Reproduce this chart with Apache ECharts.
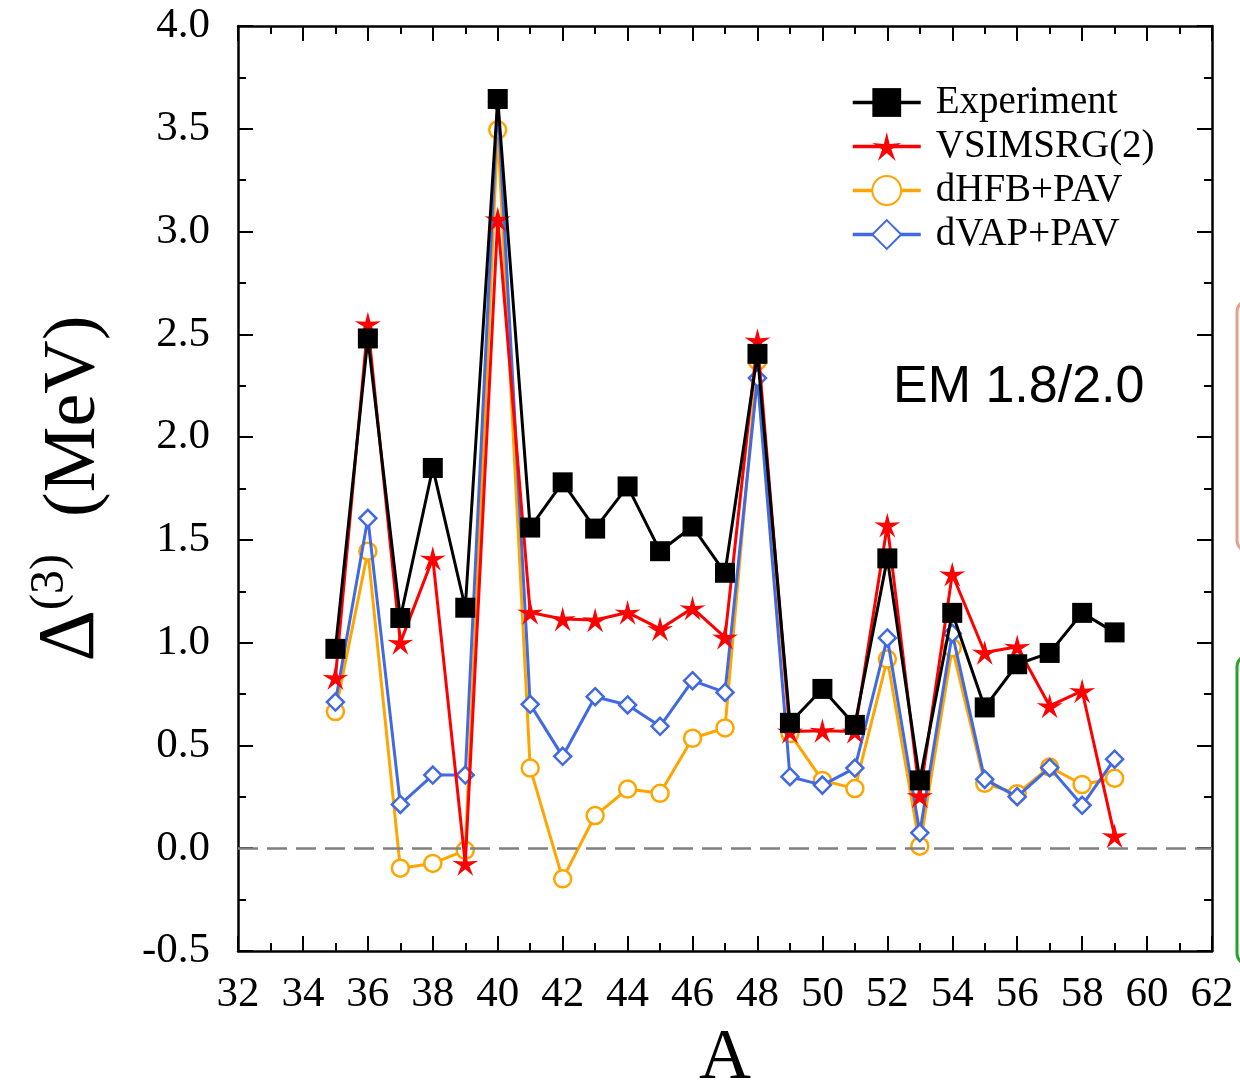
<!DOCTYPE html>
<html>
<head>
<meta charset="utf-8">
<script src="https://cdn.jsdelivr.net/npm/echarts@6/dist/echarts.min.js"></script>
<style>
html,body{margin:0;padding:0;background:#fff;}
#chart{width:1240px;height:1090px;}
</style>
</head>
<body>
<div id="chart"></div>
<script>
// Data
const massNumbers = [35,36,37,38,39,40,41,42,43,44,45,46,47,48,49,50,51,52,53,54,55,56,57,58,59];
const experiment = [0.97,2.48,1.12,1.85,1.17,3.645,1.56,1.78,1.555,1.76,1.445,1.565,1.34,2.405,0.61,0.775,0.60,1.41,0.33,1.145,0.685,0.895,0.95,1.145,1.05];
const vsimsrg2   = [0.83,2.55,1.00,1.41,-0.075,3.06,1.147,1.115,1.11,1.147,1.067,1.168,1.026,2.47,0.568,0.572,0.568,1.572,0.255,1.333,0.952,0.98,0.692,0.765,0.06];
const dhfbPav    = [0.665,1.445,-0.097,-0.074,-0.01,3.495,0.39,-0.149,0.159,0.288,0.267,0.535,0.585,2.37,0.558,0.33,0.29,0.92,0.01,0.975,0.316,0.265,0.395,0.31,0.34];
const dvapPav    = [0.711,1.605,0.213,0.356,0.356,3.63,0.70,0.447,0.737,0.697,0.593,0.815,0.758,2.287,0.348,0.307,0.39,1.023,0.075,1.045,0.335,0.251,0.392,0.209,0.433];
const seriesNames = ['Experiment','VSIMSRG(2)','dHFB+PAV','dVAP+PAV'];
const xTickMin = 32, xTickMax = 62, xTickStep = 2;
const yTickMin = -0.5, yTickMax = 4.0, yTickStep = 0.5;

const pairs = arr => massNumbers.map((a,i)=>[a,arr[i]]);
const serif = 'Liberation Serif';
const starPath = 'path://M0 -10 L1.88 -2.59 L9.511 -3.09 L3.04 0.99 L5.878 8.09 L0 3.2 L-5.878 8.09 L-3.04 0.99 L-9.511 -3.09 L-1.88 -2.59 Z';

const chart = echarts.init(document.getElementById('chart'));

function axisCommon(){
  return {
    axisLine:{show:true,onZero:false,lineStyle:{color:'#000',width:2.5}},
    axisTick:{show:true,inside:true,length:15,lineStyle:{color:'#000',width:2}},
    minorTick:{show:true,splitNumber:2,length:8,lineStyle:{color:'#000',width:2}},
    splitLine:{show:false},
    minorSplitLine:{show:false}
  };
}

const option = {
  backgroundColor:'#fff',
  animation:false,
  grid:{left:238,right:28,top:26,bottom:139,containLabel:false,outerBoundsMode:'none'},
  legend:{
    orient:'vertical',
    left:846, top:78,
    itemWidth:68, itemHeight:36, itemGap:5,
    data:seriesNames,
    lineStyle:{width:3.5},
    textStyle:{fontFamily:serif,fontSize:39,color:'#000',padding:[0,0,0,10]}
  },
  xAxis:[
    Object.assign(axisCommon(),{
      type:'value',min:xTickMin,max:xTickMax,interval:xTickStep,position:'bottom',
      axisLabel:{show:true,fontFamily:serif,fontSize:43,color:'#000',margin:22},
      name:'A',nameLocation:'middle',nameGap:72,
      nameTextStyle:{fontFamily:serif,fontSize:72,color:'#000'}
    }),
    Object.assign(axisCommon(),{
      type:'value',min:xTickMin,max:xTickMax,interval:xTickStep,position:'top',
      axisLabel:{show:false}
    })
  ],
  yAxis:[
    Object.assign(axisCommon(),{
      type:'value',min:yTickMin,max:yTickMax,interval:yTickStep,position:'left',
      axisLabel:{show:true,fontFamily:serif,fontSize:43,color:'#000',margin:28,
        formatter:v=>v.toFixed(1)},
      name:'{d|Δ}{s|(3)}{m|  (MeV)}',nameLocation:'middle',nameRotate:90,nameGap:126,
      nameTextStyle:{
        padding:[0,0,0,0],
        rich:{
          d:{fontFamily:serif,fontSize:80,color:'#000',lineHeight:86,verticalAlign:'bottom'},
          s:{fontFamily:serif,fontSize:48,color:'#000',lineHeight:86,verticalAlign:'top'},
          m:{fontFamily:serif,fontSize:74,color:'#000',lineHeight:86,verticalAlign:'bottom'}
        }
      }
    }),
    Object.assign(axisCommon(),{
      type:'value',min:yTickMin,max:yTickMax,interval:yTickStep,position:'right',
      axisLabel:{show:false}
    })
  ],
  series:[
    {
      name:'dHFB+PAV',type:'line',data:pairs(dhfbPav),
      symbol:'circle',symbolSize:17,
      lineStyle:{color:'#FFA500',width:3},
      itemStyle:{color:'#fff',borderColor:'#FFA500',borderWidth:2.5},
      z:2,
      markLine:{
        silent:true,symbol:'none',label:{show:false},
        lineStyle:{color:'#808080',width:2.5,type:[20,9]},
        data:[{yAxis:0}]
      }
    },
    {
      name:'dVAP+PAV',type:'line',data:pairs(dvapPav),
      symbol:'diamond',symbolSize:17,
      lineStyle:{color:'#4169E1',width:3},
      itemStyle:{color:'#fff',borderColor:'#4169E1',borderWidth:2.5},
      z:3
    },
    {
      name:'VSIMSRG(2)',type:'line',data:pairs(vsimsrg2),
      symbol:starPath,symbolSize:26,symbolKeepAspect:true,
      lineStyle:{color:'#FF0000',width:3},
      itemStyle:{color:'#FF0000'},
      z:4
    },
    {
      name:'Experiment',type:'line',data:pairs(experiment),
      symbol:'rect',symbolSize:20,
      lineStyle:{color:'#000',width:3},
      itemStyle:{color:'#000'},
      z:5
    }
  ],
  graphic:[
    {type:'text',left:893,top:362,style:{text:'EM 1.8/2.0',fontFamily:'Liberation Sans',fontSize:52,fill:'#000'}},
    {type:'rect',shape:{x:1237,y:300,width:40,height:252,r:12},style:{fill:'none',stroke:'#E3A08C',lineWidth:3}},
    {type:'rect',shape:{x:1237,y:655,width:40,height:310,r:12},style:{fill:'none',stroke:'#2CA02C',lineWidth:3}}
  ]
};
chart.setOption(option);
</script>
</body>
</html>
